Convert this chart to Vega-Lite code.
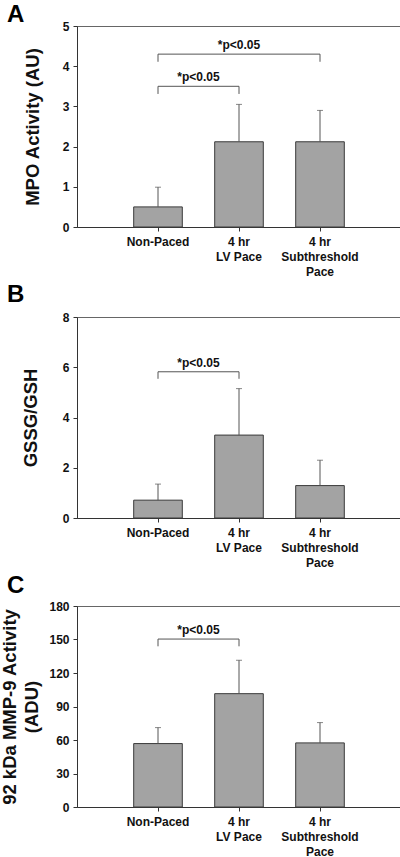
{
  "$schema": "https://vega.github.io/schema/vega-lite/v6.json",
  "background": "white",
  "padding": {"left": 0, "top": 2, "right": 0, "bottom": 0},
  "config": {
    "font": "Liberation Sans",
    "view": {"stroke": "#666666", "strokeWidth": 1},
    "axis": {
      "grid": false,
      "labelFont": "Liberation Sans",
      "labelFontWeight": "bold",
      "labelFontSize": 12,
      "labelColor": "#111111",
      "titleFont": "Liberation Sans",
      "titleFontWeight": "bold",
      "titleFontSize": 18.5,
      "titleColor": "#111111",
      "domainColor": "#333333",
      "tickColor": "#333333",
      "tickSize": 4
    },
    "axisX": {"labelAngle": 0, "labelPadding": 5, "labelLineHeight": 15, "title": null},
    "axisY": {"labelPadding": 4, "labelOverlap": false},
    "concat": {"spacing": 4},
    "title": {"font": "Liberation Sans", "fontSize": 24, "fontWeight": "bold", "anchor": "start", "frame": "group", "color": "#000000"}
  },
  "datasets": {
    "a_bars": [
      {"group": "Non-Paced", "mean": 0.5, "upper": 0.99},
      {"group": "4 hr LV Pace", "mean": 2.12, "upper": 3.05},
      {"group": "4 hr Subthreshold Pace", "mean": 2.12, "upper": 2.9}
    ],
    "a_brackets": [
      {"from": "Non-Paced", "to": "4 hr LV Pace", "y": 3.5, "leg": 3.31, "label": "*p<0.05"},
      {"from": "Non-Paced", "to": "4 hr Subthreshold Pace", "y": 4.3, "leg": 4.11, "label": "*p<0.05"}
    ],
    "b_bars": [
      {"group": "Non-Paced", "mean": 0.71, "upper": 1.35},
      {"group": "4 hr LV Pace", "mean": 3.3, "upper": 5.15},
      {"group": "4 hr Subthreshold Pace", "mean": 1.29, "upper": 2.3}
    ],
    "b_brackets": [
      {"from": "Non-Paced", "to": "4 hr LV Pace", "y": 5.82, "leg": 5.54, "label": "*p<0.05"}
    ],
    "c_bars": [
      {"group": "Non-Paced", "mean": 56.8, "upper": 71.1},
      {"group": "4 hr LV Pace", "mean": 101.5, "upper": 131.4},
      {"group": "4 hr Subthreshold Pace", "mean": 57.4, "upper": 75.6}
    ],
    "c_brackets": [
      {"from": "Non-Paced", "to": "4 hr LV Pace", "y": 150.4, "leg": 143.9, "label": "*p<0.05"}
    ]
  },
  "vconcat": [
    {
      "width": 324,
      "height": 201,
      "title": {"text": "A", "dx": -70, "offset": -7},
      "layer": [
        {
          "data": {"name": "a_bars"},
          "mark": {"type": "bar", "fill": "#a3a3a3", "stroke": "#3a3a3a", "strokeWidth": 1},
          "encoding": {
            "x": {"field": "group", "type": "nominal", "sort": null,
              "scale": {"domain": ["Non-Paced", "4 hr LV Pace", "4 hr Subthreshold Pace"], "paddingInner": 0.4, "paddingOuter": 0.7},
              "axis": {"labelExpr": "datum.label == '4 hr LV Pace' ? ['4 hr', 'LV Pace'] : datum.label == '4 hr Subthreshold Pace' ? ['4 hr', 'Subthreshold', 'Pace'] : datum.label"}},
            "y": {"field": "mean", "type": "quantitative",
              "scale": {"domain": [0, 5], "nice": false},
              "axis": {"values": [0, 1, 2, 3, 4, 5], "labelOverlap": false, "title": "MPO Activity (AU)", "titlePadding": 20}}
          }
        },
        {
          "data": {"name": "a_bars"},
          "mark": {"type": "rule", "color": "#555555"},
          "encoding": {
            "x": {"field": "group", "type": "nominal", "sort": null},
            "y": {"field": "mean", "type": "quantitative"},
            "y2": {"field": "upper"}
          }
        },
        {
          "data": {"name": "a_bars"},
          "mark": {"type": "tick", "color": "#555555", "size": 6, "thickness": 1, "orient": "horizontal"},
          "encoding": {
            "x": {"field": "group", "type": "nominal", "sort": null},
            "y": {"field": "upper", "type": "quantitative"}
          }
        },
        {
          "data": {"name": "a_brackets"},
          "mark": {"type": "rule", "color": "#555555"},
          "encoding": {
            "x": {"field": "from", "type": "nominal"},
            "x2": {"field": "to"},
            "y": {"field": "y", "type": "quantitative"}
          }
        },
        {
          "data": {"name": "a_brackets"},
          "mark": {"type": "rule", "color": "#555555"},
          "encoding": {
            "x": {"field": "from", "type": "nominal"},
            "y": {"field": "leg", "type": "quantitative"},
            "y2": {"field": "y"}
          }
        },
        {
          "data": {"name": "a_brackets"},
          "mark": {"type": "rule", "color": "#555555"},
          "encoding": {
            "x": {"field": "to", "type": "nominal"},
            "y": {"field": "leg", "type": "quantitative"},
            "y2": {"field": "y"}
          }
        },
        {
          "data": {"name": "a_brackets"},
          "transform": [{"filter": "datum.to == '4 hr LV Pace'"}],
          "mark": {"type": "text", "fontWeight": "bold", "fontSize": 12, "baseline": "bottom", "dy": -2, "dx": 40.5, "color": "#111111", "align": "center"},
          "encoding": {
            "x": {"field": "from", "type": "nominal"},
            "y": {"field": "y", "type": "quantitative"},
            "text": {"field": "label"}
          }
        },
        {
          "data": {"name": "a_brackets"},
          "transform": [{"filter": "datum.to == '4 hr Subthreshold Pace'"}],
          "mark": {"type": "text", "fontWeight": "bold", "fontSize": 12, "baseline": "bottom", "dy": -2, "dx": 81, "color": "#111111", "align": "center"},
          "encoding": {
            "x": {"field": "from", "type": "nominal"},
            "y": {"field": "y", "type": "quantitative"},
            "text": {"field": "label"}
          }
        }
      ]
    },
    {
      "width": 324,
      "height": 201,
      "title": {"text": "B", "dx": -70, "offset": 4},
      "layer": [
        {
          "data": {"name": "b_bars"},
          "mark": {"type": "bar", "fill": "#a3a3a3", "stroke": "#3a3a3a", "strokeWidth": 1},
          "encoding": {
            "x": {"field": "group", "type": "nominal", "sort": null,
              "scale": {"domain": ["Non-Paced", "4 hr LV Pace", "4 hr Subthreshold Pace"], "paddingInner": 0.4, "paddingOuter": 0.7},
              "axis": {"labelExpr": "datum.label == '4 hr LV Pace' ? ['4 hr', 'LV Pace'] : datum.label == '4 hr Subthreshold Pace' ? ['4 hr', 'Subthreshold', 'Pace'] : datum.label"}},
            "y": {"field": "mean", "type": "quantitative",
              "scale": {"domain": [0, 8], "nice": false},
              "axis": {"values": [0, 2, 4, 6, 8], "labelOverlap": false, "title": "GSSG/GSH", "titlePadding": 22}}
          }
        },
        {
          "data": {"name": "b_bars"},
          "mark": {"type": "rule", "color": "#555555"},
          "encoding": {
            "x": {"field": "group", "type": "nominal", "sort": null},
            "y": {"field": "mean", "type": "quantitative"},
            "y2": {"field": "upper"}
          }
        },
        {
          "data": {"name": "b_bars"},
          "mark": {"type": "tick", "color": "#555555", "size": 6, "thickness": 1, "orient": "horizontal"},
          "encoding": {
            "x": {"field": "group", "type": "nominal", "sort": null},
            "y": {"field": "upper", "type": "quantitative"}
          }
        },
        {
          "data": {"name": "b_brackets"},
          "mark": {"type": "rule", "color": "#555555"},
          "encoding": {
            "x": {"field": "from", "type": "nominal"},
            "x2": {"field": "to"},
            "y": {"field": "y", "type": "quantitative"}
          }
        },
        {
          "data": {"name": "b_brackets"},
          "mark": {"type": "rule", "color": "#555555"},
          "encoding": {
            "x": {"field": "from", "type": "nominal"},
            "y": {"field": "leg", "type": "quantitative"},
            "y2": {"field": "y"}
          }
        },
        {
          "data": {"name": "b_brackets"},
          "mark": {"type": "rule", "color": "#555555"},
          "encoding": {
            "x": {"field": "to", "type": "nominal"},
            "y": {"field": "leg", "type": "quantitative"},
            "y2": {"field": "y"}
          }
        },
        {
          "data": {"name": "b_brackets"},
          "mark": {"type": "text", "fontWeight": "bold", "fontSize": 12, "baseline": "bottom", "dy": -2, "dx": 40.5, "color": "#111111", "align": "center"},
          "encoding": {
            "x": {"field": "from", "type": "nominal"},
            "y": {"field": "y", "type": "quantitative"},
            "text": {"field": "label"}
          }
        }
      ]
    },
    {
      "width": 324,
      "height": 201,
      "title": {"text": "C", "dx": -70, "offset": 2},
      "layer": [
        {
          "data": {"name": "c_bars"},
          "mark": {"type": "bar", "fill": "#a3a3a3", "stroke": "#3a3a3a", "strokeWidth": 1},
          "encoding": {
            "x": {"field": "group", "type": "nominal", "sort": null,
              "scale": {"domain": ["Non-Paced", "4 hr LV Pace", "4 hr Subthreshold Pace"], "paddingInner": 0.4, "paddingOuter": 0.7},
              "axis": {"labelExpr": "datum.label == '4 hr LV Pace' ? ['4 hr', 'LV Pace'] : datum.label == '4 hr Subthreshold Pace' ? ['4 hr', 'Subthreshold', 'Pace'] : datum.label"}},
            "y": {"field": "mean", "type": "quantitative",
              "scale": {"domain": [0, 180], "nice": false},
              "axis": {"values": [0, 30, 60, 90, 120, 150, 180], "tickCount": 7, "labelOverlap": false, "title": ["92 kDa MMP-9 Activity", "(ADU)"], "titleLineHeight": 22, "titlePadding": 7}}
          }
        },
        {
          "data": {"name": "c_bars"},
          "mark": {"type": "rule", "color": "#555555"},
          "encoding": {
            "x": {"field": "group", "type": "nominal", "sort": null},
            "y": {"field": "mean", "type": "quantitative"},
            "y2": {"field": "upper"}
          }
        },
        {
          "data": {"name": "c_bars"},
          "mark": {"type": "tick", "color": "#555555", "size": 6, "thickness": 1, "orient": "horizontal"},
          "encoding": {
            "x": {"field": "group", "type": "nominal", "sort": null},
            "y": {"field": "upper", "type": "quantitative"}
          }
        },
        {
          "data": {"name": "c_brackets"},
          "mark": {"type": "rule", "color": "#555555"},
          "encoding": {
            "x": {"field": "from", "type": "nominal"},
            "x2": {"field": "to"},
            "y": {"field": "y", "type": "quantitative"}
          }
        },
        {
          "data": {"name": "c_brackets"},
          "mark": {"type": "rule", "color": "#555555"},
          "encoding": {
            "x": {"field": "from", "type": "nominal"},
            "y": {"field": "leg", "type": "quantitative"},
            "y2": {"field": "y"}
          }
        },
        {
          "data": {"name": "c_brackets"},
          "mark": {"type": "rule", "color": "#555555"},
          "encoding": {
            "x": {"field": "to", "type": "nominal"},
            "y": {"field": "leg", "type": "quantitative"},
            "y2": {"field": "y"}
          }
        },
        {
          "data": {"name": "c_brackets"},
          "mark": {"type": "text", "fontWeight": "bold", "fontSize": 12, "baseline": "bottom", "dy": -2, "dx": 40.5, "color": "#111111", "align": "center"},
          "encoding": {
            "x": {"field": "from", "type": "nominal"},
            "y": {"field": "y", "type": "quantitative"},
            "text": {"field": "label"}
          }
        }
      ]
    }
  ]
}
